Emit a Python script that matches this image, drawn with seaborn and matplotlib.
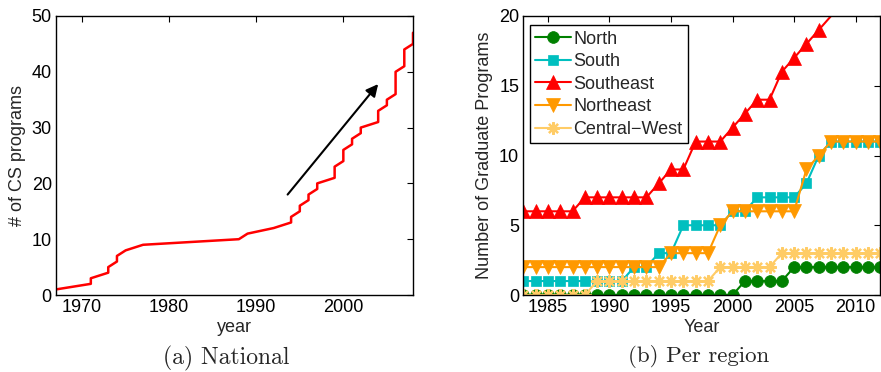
import numpy as np
import pandas as pd
import matplotlib
matplotlib.use("Agg")
import matplotlib.pyplot as plt
import seaborn as sns

# ---------------- data ----------------
# (a) National: year each CS program started, and cumulative count
national_years = [1967, 1971, 1971, 1973, 1973, 1974, 1974, 1975, 1977, 1988,
                  1989, 1992, 1994, 1994, 1995, 1995, 1996, 1996, 1997, 1997,
                  1999, 1999, 1999, 2000, 2000, 2000, 2001, 2001, 2002, 2002,
                  2004, 2004, 2004, 2005, 2005, 2006, 2006, 2006, 2006, 2006,
                  2007, 2007, 2007, 2007, 2008, 2008, 2008]
national_count = [1, 2, 3, 4, 5, 6, 7, 8, 9, 10,
                  11, 12, 13, 14, 15, 16, 17, 18, 19, 20,
                  21, 22, 23, 24, 25, 26, 27, 28, 29, 30,
                  31, 32, 33, 34, 35, 36, 37, 38, 39, 40,
                  41, 42, 43, 44, 45, 46, 47]

# (b) Per region
region_years = list(range(1983, 2013))
north = [0, 0, 0, 0, 0, 0, 0, 0, 0, 0, 0, 0, 0, 0, 0, 0, 0, 0,
         1, 1, 1, 1, 2, 2, 2, 2, 2, 2, 2, 2]
south = [1, 1, 1, 1, 1, 1, 1, 1, 1, 2, 2, 3, 3, 5, 5, 5, 5, 6,
         6, 7, 7, 7, 7, 8, 10, 11, 11, 11, 11, 11]
southeast = [6, 6, 6, 6, 6, 7, 7, 7, 7, 7, 7, 8, 9, 9, 11, 11, 11, 12,
             13, 14, 14, 16, 17, 18, 19, 20, 21, 22, 23, 24]
northeast = [2, 2, 2, 2, 2, 2, 2, 2, 2, 2, 2, 2, 3, 3, 3, 3, 5, 6,
             6, 6, 6, 6, 6, 9, 10, 11, 11, 11, 11, 11]
central_west = [0, 0, 0, 0, 0, 0, 1, 1, 1, 1, 1, 1, 1, 1, 1, 1, 2, 2,
                2, 2, 2, 3, 3, 3, 3, 3, 3, 3, 3, 3]

region_names = ["North", "South", "Southeast", "Northeast", "Central\u2212West"]
region_values = [north, south, southeast, northeast, central_west]
region_colors = ["#008000", "#00BFBF", "#FF0000", "#FF9900", "#FFCC66"]
region_markers = ["o", "s", "^", "v", (8, 2, 0)]
region_msizes = [8.5, 7.5, 10, 10, 9]

# ---------------- style ----------------
sns.set_style("white")
plt.rcParams["font.family"] = ["Liberation Sans", "DejaVu Sans"]
plt.rcParams["axes.edgecolor"] = "black"
plt.rcParams["axes.linewidth"] = 1.0

fig = plt.figure(figsize=(8.81, 3.72), dpi=100)
W, H = 881.0, 372.0
ax1 = fig.add_axes([56 / W, 1 - 295 / H, 357 / W, 279 / H])
ax2 = fig.add_axes([523.3 / W, 1 - 295 / H, 357 / W, 279 / H])

TICK_FS = 13
LABEL_FS = 13

# ---------------- (a) National ----------------
df_nat = pd.DataFrame({"year": national_years, "count": national_count})
sns.lineplot(data=df_nat, x="year", y="count", estimator=None, sort=False,
             color="#FF0000", linewidth=1.8, ax=ax1)
ax1.annotate("", xy=(2004.0, 37.8), xytext=(1993.6, 18.0),
             arrowprops=dict(arrowstyle="-|>", color="black", lw=1.5,
                             mutation_scale=18, shrinkA=0, shrinkB=0))
ax1.set_xlim(1967, 2008)
ax1.set_ylim(0, 50)
ax1.set_xticks([1970, 1980, 1990, 2000])
ax1.set_yticks([0, 10, 20, 30, 40, 50])
ax1.set_xlabel("year", fontsize=LABEL_FS)
ax1.set_ylabel("# of CS programs", fontsize=LABEL_FS)

# ---------------- (b) Per region ----------------
for name, vals, col, mk, ms in zip(region_names, region_values, region_colors,
                                   region_markers, region_msizes):
    dfr = pd.DataFrame({"Year": region_years, "Programs": vals})
    visible = [i for i, v in enumerate(vals) if v < 20]
    sns.lineplot(data=dfr, x="Year", y="Programs", estimator=None, ax=ax2,
                 color=col, linewidth=1.5, marker=mk, markersize=ms,
                 markerfacecolor=col, markeredgecolor=col,
                 markeredgewidth=1.6 if not isinstance(mk, str) else 0.5,
                 markevery=visible, label=name)
ax2.set_xlim(1983, 2012)
ax2.set_ylim(0, 20)
ax2.set_xticks([1985, 1990, 1995, 2000, 2005, 2010])
ax2.set_yticks([0, 5, 10, 15, 20])
ax2.set_xlabel("Year", fontsize=LABEL_FS)
ax2.set_ylabel("Number of Graduate Programs", fontsize=LABEL_FS)
leg = ax2.legend(loc="upper left", bbox_to_anchor=(0.018, 0.967),
                 fontsize=TICK_FS, frameon=True, fancybox=False, framealpha=1,
                 edgecolor="black", handlelength=2.0, handletextpad=0.12,
                 labelspacing=0.31, borderpad=0.3, borderaxespad=0)
leg.get_frame().set_linewidth(1.0)

for ax in (ax1, ax2):
    ax.tick_params(direction="in", top=True, right=True, length=4,
                   width=0.8, labelsize=TICK_FS, pad=3, colors="black")
    for s in ax.spines.values():
        s.set_visible(True)
        s.set_color("black")
    ax.xaxis.set_label_coords(0.5, -0.085)
    ax.yaxis.set_label_coords(-0.085, 0.5)

# ---------------- captions ----------------
fig.text(226 / W, 1 - 358 / H, "(a) National", family="cmr10", fontsize=17,
         ha="center", va="center")
fig.text(699 / W, 1 - 357 / H, "(b) Per region", family="cmr10", fontsize=16.5,
         ha="center", va="center")

fig.savefig("out.png", dpi=100)
